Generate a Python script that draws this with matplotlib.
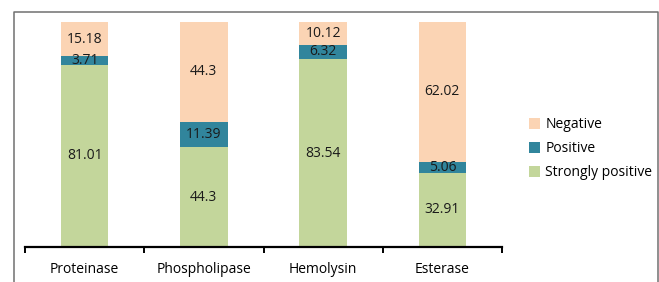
import matplotlib
matplotlib.use("Agg")
import matplotlib.pyplot as plt
from matplotlib.lines import Line2D

plt.rcParams['font.family'] = ['Open Sans', 'DejaVu Sans']

# data (percent of isolates)
categories = ["Proteinase", "Phospholipase", "Hemolysin", "Esterase"]
strongly_positive = [81.01, 44.3, 83.54, 32.91]
positive = [3.71, 11.39, 6.32, 5.06]
negative = [15.18, 44.3, 10.12, 62.02]

GREEN = "#c3d69b"
TEAL = "#31859c"
PEACH = "#fbd4b4"

fig = plt.figure(figsize=(6.59, 2.82), dpi=100)
# grey frame around the chart area (bottom edge runs off the image)
W, H = 659, 282
frame_x = [13.5 / W, 13.5 / W, 657.5 / W, 657.5 / W]
frame_y = [0.0, 1 - 11.5 / H, 1 - 11.5 / H, 0.0]
fig.add_artist(Line2D(frame_x, frame_y, transform=fig.transFigure,
                      color="#707070", lw=1.1, zorder=5))

ax = fig.add_axes([25 / W, 35 / H, 477 / W, 225 / H])
x = range(len(categories))
w = 0.40

b1 = ax.bar(x, strongly_positive, w, color=GREEN, label="Strongly positive")
bottom2 = strongly_positive
b2 = ax.bar(x, positive, w, bottom=bottom2, color=TEAL, label="Positive")
bottom3 = [a + b for a, b in zip(strongly_positive, positive)]
b3 = ax.bar(x, negative, w, bottom=bottom3, color=PEACH, label="Negative")

for bars in (b1, b2, b3):
    ax.bar_label(bars, labels=[f"{v:g}" for v in bars.datavalues],
                 label_type="center", fontsize=10, color="#1a1a1a")

ax.set_xlim(-0.5, len(categories) - 0.5)
ax.set_ylim(0, 100)
for s in ("left", "right", "top"):
    ax.spines[s].set_visible(False)
ax.spines["bottom"].set_linewidth(1.6)
ax.set_yticks([])
ax.set_xticks(list(x))
ax.set_xticklabels(categories, fontsize=10)
ax.tick_params(axis="x", which="major", length=0, pad=11)
ax.set_xticks([i - 0.5 for i in range(len(categories) + 1)], minor=True)
ax.tick_params(axis="x", which="minor", length=4, width=1.4, direction="out")

handles = [b3, b2, b1]
ax.legend(handles, [h.get_label() for h in handles], loc="center left",
          bbox_to_anchor=(1.03, 0.437), frameon=False, fontsize=10,
          handlelength=0.8, handleheight=0.8, handletextpad=0.4,
          labelspacing=0.65)

fig.savefig("out.png", dpi=100)
